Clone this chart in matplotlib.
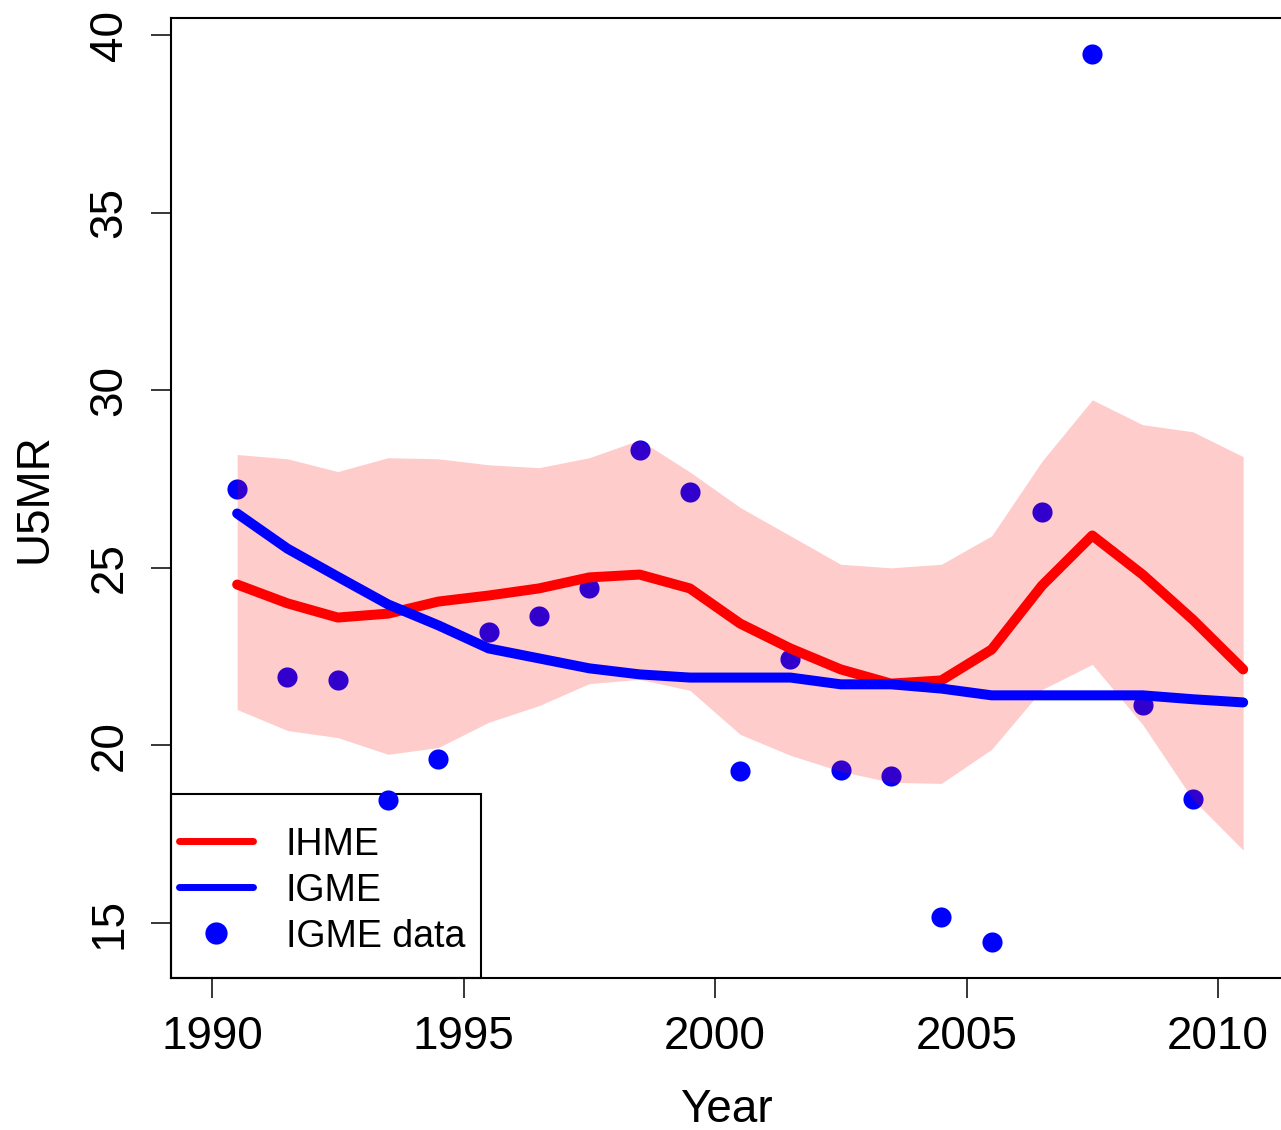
import matplotlib
matplotlib.use("Agg")
import matplotlib.pyplot as plt
from matplotlib.lines import Line2D
from matplotlib.patches import Rectangle
import numpy as np

years = np.arange(1990.5, 2011.0, 1.0)

ihme = [24.53, 24.00, 23.60, 23.71, 24.05, 24.22, 24.42, 24.73, 24.81, 24.42,
        23.43, 22.73, 22.14, 21.74, 21.83, 22.70, 24.50, 25.91, 24.81, 23.54, 22.14]
ihme_upper = [28.19, 28.07, 27.71, 28.10, 28.07, 27.90, 27.82, 28.10, 28.60, 27.70,
              26.70, 25.90, 25.10, 25.00, 25.10, 25.90, 28.00, 29.73, 29.03, 28.83, 28.13]
ihme_lower = [21.01, 20.42, 20.22, 19.75, 19.94, 20.65, 21.12, 21.74, 21.86, 21.55,
              20.31, 19.72, 19.27, 18.96, 18.93, 19.89, 21.57, 22.28, 20.59, 18.48, 17.05]
igme = [26.53, 25.54, 24.75, 23.97, 23.38, 22.73, 22.45, 22.17, 22.00, 21.91,
        21.91, 21.91, 21.72, 21.72, 21.60, 21.41, 21.41, 21.41, 21.41, 21.30, 21.21]
igme_data = [27.23, 21.94, 21.83, 18.45, 19.63, 23.18, 23.63, 24.42, 28.33, 27.14,
             19.27, 22.42, 19.32, 19.13, 15.16, 14.46, 26.58, 39.47, 21.13, 18.48]

legend_labels = ["IHME", "IGME", "IGME data"]

plt.rcParams["font.family"] = ["Liberation Sans", "DejaVu Sans"]

W, H = 1281, 1130
fig = plt.figure(figsize=(W / 100, H / 100), dpi=100)
ax = fig.add_axes([171 / W, (H - 978) / H, 1110 / W, 960 / H])

# legend box goes underneath the points (R draws the points last)
box_w, box_h = 0.2793, 0.1917
ax.add_patch(Rectangle((0, 0), box_w, box_h, transform=ax.transAxes,
                       facecolor="white", edgecolor="black", lw=1.5,
                       zorder=0.5, clip_on=False))

# points first, then the translucent band over them, then the lines
ax.scatter(years[:len(igme_data)], igme_data, s=210, color="#0000FF",
           linewidths=0, zorder=1)
ax.fill_between(years, ihme_lower, ihme_upper, color="#FF0000", alpha=0.2,
                linewidth=0, zorder=2)
ax.plot(years, ihme, color="#FF0000", lw=7.2, solid_capstyle="round",
        solid_joinstyle="round", zorder=3)
ax.plot(years, igme, color="#0000FF", lw=7.2, solid_capstyle="round",
        solid_joinstyle="round", zorder=3)

ax.set_xlim(1989.185, 2011.252)
ax.set_ylim(13.452, 40.479)
ax.set_xticks([1990, 1995, 2000, 2005, 2010])
ax.set_yticks([15, 20, 25, 30, 35, 40])
ax.tick_params(axis="both", length=14.4, width=1.1, labelsize=33, pad=12)
ax.tick_params(axis="y", labelrotation=90, pad=14)
for lab in ax.get_yticklabels():
    lab.set_va("center")
ax.spines["right"].set_visible(False)
for side in ("left", "top", "bottom"):
    ax.spines[side].set_linewidth(1.5)

ax.set_xlabel("Year", fontsize=33, labelpad=21)
ax.set_ylabel("U5MR", fontsize=33, labelpad=22)

# legend entries
rows = [0.1427, 0.0948, 0.0469]
ax.add_line(Line2D([0.0072, 0.0739], [rows[0]] * 2, transform=ax.transAxes,
                   color="#FF0000", lw=5, solid_capstyle="round", zorder=5))
ax.add_line(Line2D([0.0072, 0.0739], [rows[1]] * 2, transform=ax.transAxes,
                   color="#0000FF", lw=5, solid_capstyle="round", zorder=5))
ax.add_line(Line2D([0.0405], [rows[2]], transform=ax.transAxes, marker="o",
                   markersize=16, color="#0000FF", markeredgewidth=0, zorder=5))
for lab, yy in zip(legend_labels, rows):
    ax.text(0.1036, yy, lab, transform=ax.transAxes, fontsize=27,
            va="center_baseline", ha="left", zorder=5)

fig.savefig("out.png", dpi=100)
